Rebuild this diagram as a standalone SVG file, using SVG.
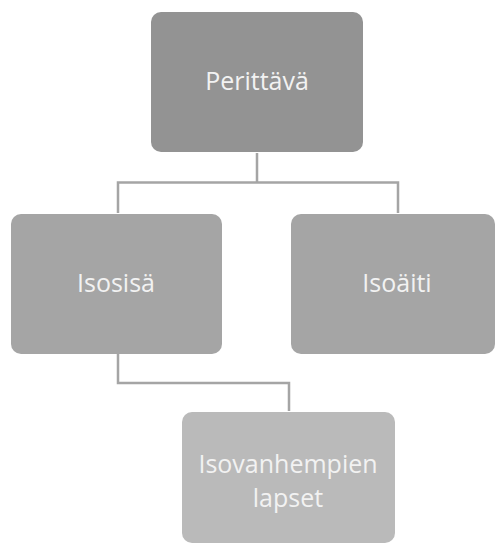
<svg xmlns="http://www.w3.org/2000/svg" width="496" height="544" viewBox="0 0 496 544">
<style>
.n rect{stroke:none}
.t{font-family:"Open Sans","Liberation Sans",sans-serif;font-size:25px;fill:#f2f2f2;text-anchor:middle}
.c{fill:none;stroke:#a5a5a5;stroke-width:2.5}
</style>
<rect width="496" height="544" fill="#ffffff"/>
<g id="connectors">
<path class="c" d="M257 153 V182.5 M118 213 V182.5 H398 V213"/>
<path class="c" d="M118 354 V383 H289 V411"/>
</g>
<g id="perittava" class="n">
<rect x="151" y="12" width="212" height="140" rx="10" fill="#939393"/>
<text class="t" x="257" y="90">Perittävä</text>
</g>
<g id="isosisa" class="n">
<rect x="11" y="214" width="211" height="140" rx="10" fill="#a5a5a5"/>
<text class="t" x="116" y="292">Isosisä</text>
</g>
<g id="isoaiti" class="n">
<rect x="291" y="214" width="204" height="140" rx="10" fill="#a5a5a5"/>
<text class="t" x="397" y="292">Isoäiti</text>
</g>
<g id="isovanhempien" class="n">
<rect x="182" y="412" width="213" height="131" rx="10" fill="#bababa"/>
<text class="t" x="288" y="473">Isovanhempien</text>
<text class="t" x="288" y="507">lapset</text>
</g>
</svg>
